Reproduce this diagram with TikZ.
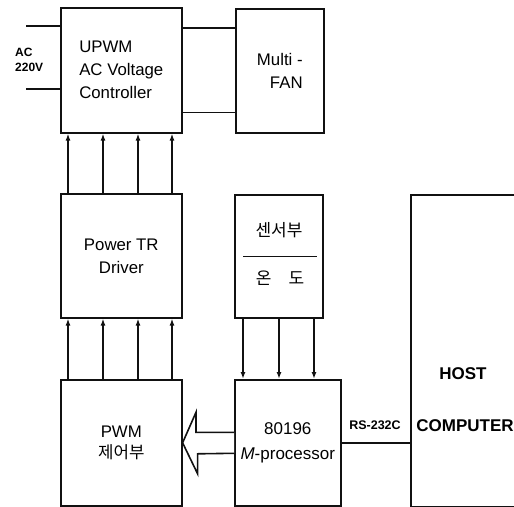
\documentclass[tikz,border=0pt]{standalone}
\usepackage{fontspec}
\setmainfont{Liberation Sans}
\newfontfamily\krfont{Noto Sans CJK KR}
\usetikzlibrary{arrows.meta,positioning,calc}
\definecolor{ink}{HTML}{111111}
\tikzset{
  blk/.style={draw=ink, line width=1.6pt, anchor=north west, align=center, inner sep=0pt, font=\fontsize{16.8}{23}\selectfont},
  arr/.style={-{Latex[length=7pt,width=5pt]}, line width=1.6pt, ink},
  wire/.style={line width=1.6pt, ink},
  lbl/.style={font=\fontsize{12}{15}\selectfont\bfseries, align=center, inner sep=0pt},
  krlbl/.style={font=\krfont\fontsize{17}{20}\selectfont, inner sep=0pt},
}
\begin{document}
\begin{tikzpicture}[x=1pt,y=-1pt]
        \useasboundingbox (0,0) rectangle (514,506);
        % blocks
        \node[blk, minimum width=121pt, minimum height=125pt, align=left] (upwm) at (60,7) {UPWM\\AC Voltage\\Controller};
        \node[blk, minimum width=88pt, minimum height=124pt, align=right] (fan) at (235,8) {Multi -\\FAN};
        \node[blk, minimum width=121pt, minimum height=124pt] (drv) at (60,193) {Power TR\\Driver};
        \node[blk, minimum width=121pt, minimum height=126pt, font=\fontsize{16.8}{21}\selectfont] (pwm) at (60,379) {PWM\\{\krfont 제어부}};
        \node[blk, minimum width=88pt, minimum height=123pt] (sen) at (234,194) {};
        \node[blk, minimum width=106pt, minimum height=126pt, font=\fontsize{17}{25}\selectfont] (cpu) at (234,379) {80196\\\textit{M}-processor};
        \node[blk, draw=none, minimum width=102pt, minimum height=310pt] (host) at (411,195) {};
        % mains input
        \coordinate (acA) at (26,26);
        \coordinate (acB) at (26,89);
        \draw[wire] (acA) -- (acA -| upwm.west);
        \draw[wire] (acB) -- (acB -| upwm.west);
        \node[lbl, align=left, anchor=west, font=\fontsize{12}{15}\selectfont\bfseries] (ac) at (15,60) {AC\\220V};
        % fan supply
        \draw[wire] ($(upwm.north east)+(0,21)$) -- ($(fan.north west)+(0,20)$);
        \draw[wire] ($(upwm.south east)+(0,-21)$) -- ($(fan.south west)+(0,-21)$);
        % gate signals
        \foreach \dx in {8,43,78,112} {
          \draw[arr] ([xshift=\dx pt]drv.north west) -- ([xshift=\dx pt]upwm.south west);
          \draw[arr] ([xshift=\dx pt]pwm.north west) -- ([xshift=\dx pt]drv.south west);
        }
        % sensor
        \node[krlbl] (senA) at (279,230) {센서부};
        \draw[wire] ($(sen.west)+(9,0)$) -- ($(sen.east)+(-7,0)$);
        \node[krlbl] (senB) at (280,278) {온\hspace{1em}도};
        \foreach \dx in {9,45,80} \draw[arr] ([xshift=\dx pt]sen.south west) -- ([xshift=\dx pt]cpu.north west);
        % bus to PWM
        \draw[wire, fill=white] ($(cpu.west)+(0,-10.5)$) -- ++(-38,0) -- ++(0,-20) -- (pwm.east) -- ++(15,31) -- ++(0,-20) -- ($(cpu.west)+(0,10.5)$);
        % host link
        \draw[wire] (cpu.east) -- (cpu.east -| host.west);
        \node[lbl, font=\fontsize{12.5}{15}\selectfont\bfseries] (rs) at (375,425) {RS-232C};
        \draw[wire] (host.north east) -- (host.north west) -- (host.south west) -- (host.south east);
        \draw[densely dotted, gray!60, line width=0.8pt] (host.north east) -- (host.south east);
        \node[lbl, font=\fontsize{17}{20}\selectfont\bfseries] (hostA) at (463,374) {HOST};
        \node[lbl, font=\fontsize{17}{20}\selectfont\bfseries] (hostB) at (465,426) {COMPUTER};
      \end{tikzpicture}
\end{document}
